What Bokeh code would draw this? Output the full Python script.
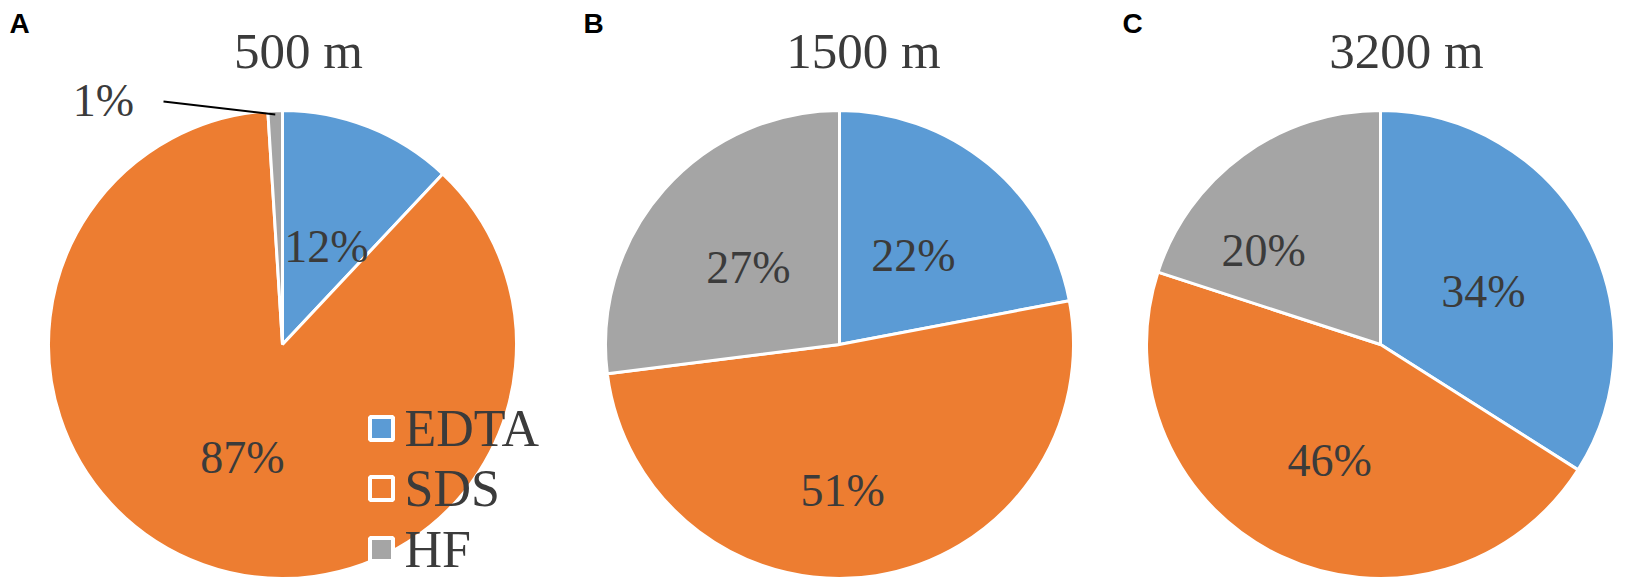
import numpy as np
from bokeh.plotting import figure
from bokeh.models import Range1d, ColumnDataSource
from bokeh.core.properties import value
from bokeh.embed import file_html
from bokeh.resources import INLINE

# ---------------- data ----------------
categories = ["EDTA", "SDS", "HF"]
depths = ["500 m", "1500 m", "3200 m"]
panel_letters = ["A", "B", "C"]
share_500 = [12, 87, 1]
share_1500 = [22, 51, 27]
share_3200 = [34, 46, 20]
colors = ["#5B9BD5", "#ED7D31", "#A5A5A5"]

# ---------------- layout ----------------
W, H = 1640, 584
IMG_H = 587
def Y(yimg):
    return IMG_H - yimg

centers_x = [282, 839, 1380]
center_y = 344
R = 234
title_x = [298, 863, 1406]
title_cy = 50
letter_x = [19, 593, 1132]
letter_cy = 23
# label placement per slice: (radius fraction, angle nudge in degrees); None = outside label
label_layout = [
    [(0.459, 2.6), (0.512, -0.3), None],
    [(0.494, 0.1), (0.624, 7.8), (0.509, -1.2)],
    [(0.495, 1.6), (0.541, -1.5), (0.641, -15.2)],
]
outside_label_pos = (103, 100)
leader_start = (163, 101)

LABEL_FS = 46
TITLE_FS = 51
LEGEND_FS = 52

TEXT = "#3b3b3b"
SERIF = value("Liberation Serif")

p = figure(width=W, height=H, x_range=Range1d(0, W), y_range=Range1d(IMG_H - H, IMG_H),
           output_backend="svg", toolbar_location=None, min_border=0)
p.axis.visible = False
p.grid.visible = False
p.outline_line_color = None
p.background_fill_color = "white"
p.border_fill_color = "white"

all_shares = [share_500, share_1500, share_3200]
for k, shares in enumerate(all_shares):
    cx = centers_x[k]
    cy = Y(center_y)
    frac = np.array(shares, dtype=float) / sum(shares)
    cum = np.concatenate([[0.0], np.cumsum(frac)])
    start = np.pi / 2 - 2 * np.pi * cum[:-1]
    end = np.pi / 2 - 2 * np.pi * cum[1:]
    src = ColumnDataSource(dict(x=[cx] * 3, y=[cy] * 3, start=start, end=end, color=colors))
    p.wedge(x="x", y="y", radius=R, radius_units="screen", start_angle="start", end_angle="end",
            direction="clock", fill_color="color", line_color="white", line_width=3, source=src)

    lx, ly, lt = [], [], []
    for i, s in enumerate(shares):
        mid = 2 * np.pi * (cum[i] + frac[i] / 2)
        lay = label_layout[k][i]
        if lay is None:
            rim_x = cx + (R - 4) * np.sin(mid)
            rim_y = cy + (R - 4) * np.cos(mid)
            p.line([leader_start[0], rim_x], [Y(leader_start[1]), rim_y], line_color="black", line_width=2)
            lx.append(outside_label_pos[0]); ly.append(Y(outside_label_pos[1]))
        else:
            rf, nudge = lay
            a = mid + np.deg2rad(nudge)
            lx.append(cx + rf * R * np.sin(a)); ly.append(cy + rf * R * np.cos(a))
        lt.append(f"{s}%")
    p.text(x=lx, y=ly, text=lt, text_font=SERIF, text_font_size=f"{LABEL_FS}px", text_color=TEXT,
           text_align="center", text_baseline="middle")

# titles and panel letters
p.text(x=title_x, y=[Y(title_cy)] * 3, text=depths, text_font=SERIF,
       text_font_size=f"{TITLE_FS}px", text_color=TEXT, text_align="center", text_baseline="middle")
p.text(x=letter_x, y=[Y(letter_cy)] * 3, text=panel_letters, text_font=value("Liberation Sans"),
       text_font_size="28px", text_font_style="bold", text_color="black",
       text_align="center", text_baseline="middle")

# legend (inside panel A)
leg_x = 381
leg_y = [428, 488, 549]
p.scatter(x=[leg_x] * 3, y=[Y(v) for v in leg_y], marker="square", size=23,
          fill_color=colors, line_color="white", line_width=4)
p.text(x=[leg_x + 23] * 3, y=[Y(v) for v in leg_y], text=categories, text_font=SERIF,
       text_font_size=f"{LEGEND_FS}px", text_color=TEXT, text_align="left", text_baseline="middle")

open("out.html", "w").write(file_html(p, INLINE))
